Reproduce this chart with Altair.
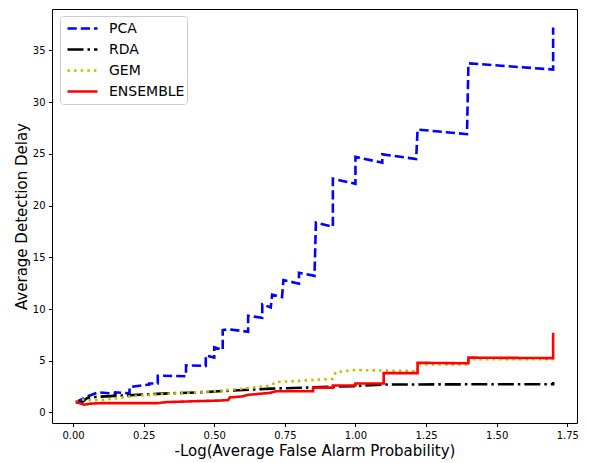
import altair as alt
import pandas as pd

SERIES = ["PCA", "RDA", "GEM", "ENSEMBLE"]
COLORS = ["#0000ff", "#000000", "#bfbf00", "#ff0000"]

PCA_X = [0.01, 0.03, 0.05, 0.09, 0.15, 0.15, 0.20, 0.20, 0.27, 0.27, 0.30, 0.30,
         0.40, 0.40, 0.47, 0.47, 0.50, 0.50, 0.53, 0.53, 0.55, 0.62, 0.62, 0.67,
         0.67, 0.70, 0.705, 0.74, 0.745, 0.80, 0.80, 0.855, 0.86, 0.92, 0.92, 1.00,
         1.00, 1.095, 1.095, 1.215, 1.22, 1.395, 1.40, 1.70, 1.70]
PCA_Y = [1.0, 1.25, 1.55, 1.95, 1.8, 1.95, 1.85, 2.45, 2.7, 2.8, 2.8, 3.55,
         3.5, 4.55, 4.5, 5.5, 5.3, 6.3, 6.05, 7.95, 8.05, 7.8, 9.35, 9.15,
         10.45, 10.15, 11.4, 11.15, 12.8, 12.45, 13.5, 13.2, 18.35, 17.95, 22.6, 22.1,
         24.7, 24.15, 24.95, 24.5, 27.35, 26.9, 33.75, 33.15, 37.2]

RDA_X = [0.01, 0.03, 0.05, 0.08, 0.15, 0.30, 0.45, 0.55, 0.70, 0.88, 1.00, 1.10, 1.40, 1.70, 1.70]
RDA_Y = [1.0, 0.95, 1.4, 1.5, 1.6, 1.8, 1.95, 2.1, 2.3, 2.45, 2.55, 2.7, 2.72, 2.72, 2.95]

GEM_X = [0.01, 0.03, 0.06, 0.10, 0.15, 0.20, 0.30, 0.40, 0.50, 0.60, 0.70, 0.72,
         0.80, 0.92, 0.93, 1.00, 1.10, 1.22, 1.22, 1.40, 1.40, 1.70]
GEM_Y = [1.0, 1.25, 1.2, 1.2, 1.35, 1.55, 1.75, 1.9, 2.05, 2.3, 2.6, 2.95,
         3.05, 3.25, 3.9, 4.1, 4.05, 4.0, 4.65, 4.65, 5.15, 5.15]

ENS_X = [0.01, 0.04, 0.06, 0.10, 0.30, 0.33, 0.45, 0.52, 0.55, 0.555, 0.60, 0.62,
         0.66, 0.70, 0.72, 0.85, 0.85, 0.92, 0.92, 1.00, 1.00, 1.10, 1.10, 1.22,
         1.22, 1.40, 1.40, 1.70, 1.70]
ENS_Y = [1.0, 0.75, 0.85, 0.9, 0.9, 1.0, 1.1, 1.15, 1.2, 1.45, 1.55, 1.7,
         1.8, 1.9, 2.05, 2.05, 2.4, 2.4, 2.6, 2.6, 2.8, 2.8, 3.8, 3.8,
         4.8, 4.75, 5.3, 5.25, 7.7]

X_TICKS = [0.0, 0.25, 0.5, 0.75, 1.0, 1.25, 1.5, 1.75]
Y_TICKS = [0, 5, 10, 15, 20, 25, 30, 35]

rows = []
for name, xs, ys in [("PCA", PCA_X, PCA_Y), ("RDA", RDA_X, RDA_Y),
                     ("GEM", GEM_X, GEM_Y), ("ENSEMBLE", ENS_X, ENS_Y)]:
    for i, (xv, yv) in enumerate(zip(xs, ys)):
        rows.append({"series": name, "x": xv, "y": yv, "i": i})
df = pd.DataFrame(rows)

FONT = "DejaVu Sans"

legend = alt.Legend(
    title=None, orient="none", legendX=8, legendY=7,
    symbolType="stroke", symbolSize=900, symbolStrokeWidth=2.6,
    labelFontSize=14, labelFont=FONT, labelColor="black",
    clipHeight=21, rowPadding=0, padding=2, symbolOffset=4, labelOffset=10,
    fillColor="white", strokeColor="#cccccc", cornerRadius=3,
)

base = alt.Chart(df).mark_line(strokeWidth=2.6).encode(
    x=alt.X("x:Q", scale=alt.Scale(domain=[-0.0745, 1.7845], nice=False, zero=False),
            axis=alt.Axis(values=X_TICKS, format=".2f",
                          title="-Log(Average False Alarm Probability)")),
    y=alt.Y("y:Q", scale=alt.Scale(domain=[-1.02, 39.0], nice=False, zero=False),
            axis=alt.Axis(values=Y_TICKS, format="d", title="Average Detection Delay")),
    color=alt.Color("series:N", scale=alt.Scale(domain=SERIES, range=COLORS), legend=legend),
    strokeDash=alt.StrokeDash("series:N",
                              scale=alt.Scale(domain=SERIES,
                                              range=[[9.25, 4], [16, 4, 2.5, 4], [2.5, 4.1], [1, 0]]),
                              legend=legend),
    order=alt.Order("i:Q"),
)

layers = [base.transform_filter(alt.datum.series == s) for s in SERIES]

chart = alt.layer(*layers).properties(
    width=525, height=414,
    autosize=alt.AutoSizeParams(type="none"),
    padding={"left": 52, "top": 9, "right": 12, "bottom": 40},
).configure_view(
    stroke="black", strokeWidth=1
).configure_axis(
    grid=False, domain=False, tickColor="black", tickSize=3.5, tickWidth=1,
    labelColor="black", labelFont=FONT, labelFontSize=10, labelPadding=3.5,
    titleFont=FONT, titleFontSize=15, titleColor="black", titleFontWeight="normal",
    labelFlush=False, labelOverlap=False,
).configure_axisX(
    titlePadding=3
).configure_axisY(
    titlePadding=3
)

chart.save("out.html", embed_options={"renderer": "svg", "actions": False})
